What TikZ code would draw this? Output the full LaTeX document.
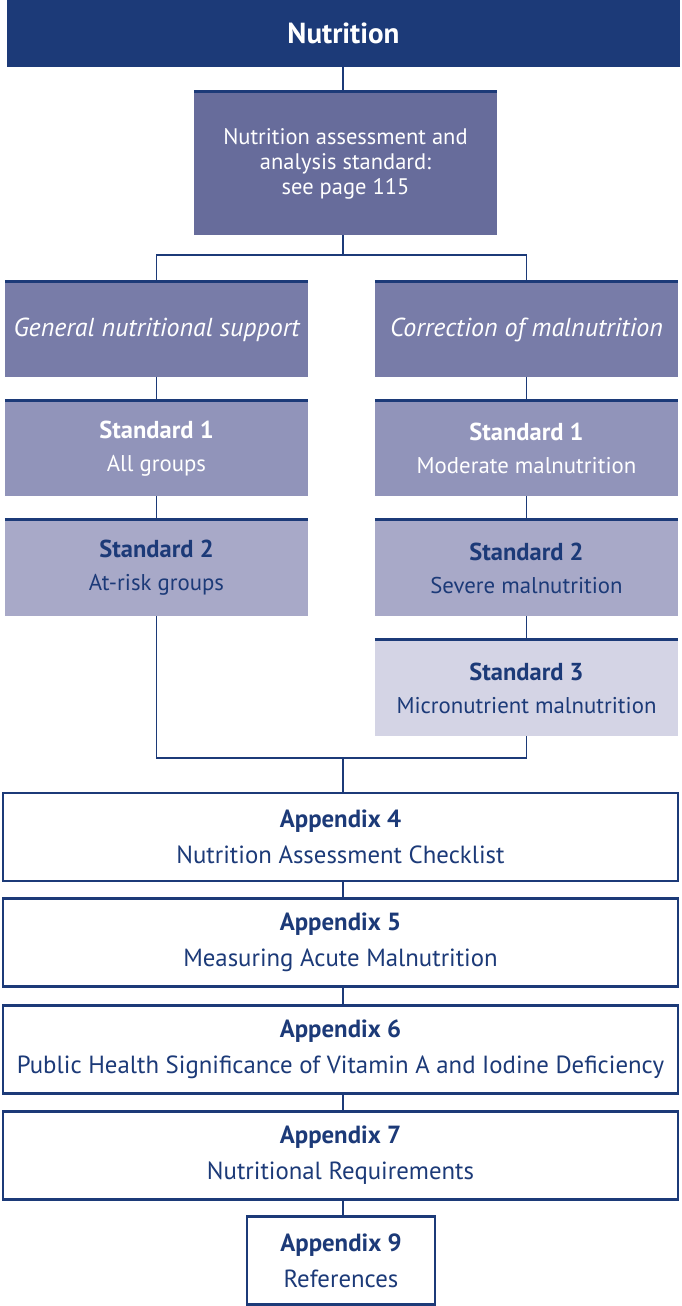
\documentclass[tikz,border=0pt]{standalone}
\usepackage{fontspec}
\setmainfont{PT Sans}
\usepackage{tikz}
\usetikzlibrary{positioning}

\definecolor{navy}{HTML}{1C3A78}
\definecolor{tierA}{HTML}{676C9B}
\definecolor{tierB}{HTML}{787CA8}
\definecolor{tierC}{HTML}{9194BA}
\definecolor{tierD}{HTML}{A8A9C8}
\definecolor{tierE}{HTML}{D4D4E5}

\newcommand{\stdhead}[1]{{\fontsize{24.5}{33}\selectfont\bfseries #1}}

\tikzset{
  box/.style={rectangle, inner sep=0pt, align=center, minimum width=303pt, minimum height=95pt,
    font=\fontsize{22.8}{33}\selectfont},
  std/.style={box, text=white},
  appx/.style={rectangle, draw=navy, line width=2.5pt, fill=white, text=navy, inner sep=0pt,
    align=center, minimum width=675pt, minimum height=88pt, font=\fontsize{24.8}{36}\selectfont},
  topline/.style={navy, line width=3pt},
  link/.style={navy, line width=1.2pt}
}

\begin{document}
\begin{tikzpicture}[x=1pt, y=-1pt]
  \useasboundingbox (0,0) rectangle (681,1306);

  % heading
  \node[rectangle, fill=navy, text=white, minimum width=673pt, minimum height=68pt, inner sep=0pt,
    font=\fontsize{29}{32}\selectfont\bfseries] (nut) at (343.5,33) {Nutrition};

  \node[std, fill=tierA, minimum height=143pt, font=\fontsize{22.5}{25}\selectfont] (assess) at (345.5,163.5)
    {Nutrition assessment and\\analysis standard:\\see page 115};

  % two branches
  \node[std, fill=tierB, font=\fontsize{26}{28}\selectfont\itshape] (gen) at (156.5,329.5) {General nutritional support};
  \node[std, fill=tierB, font=\fontsize{26}{28}\selectfont\itshape] (cor) at (526.5,329.5) {Correction of malnutrition};

  \node[std, fill=tierC] (gstd1) at (156.5,448.5) {\stdhead{Standard 1}\\All groups};
  \node[std, fill=tierD, text=navy, minimum height=96pt] (gstd2) at (156.5,568) {\stdhead{Standard 2}\\At-risk groups};

  \node[std, fill=tierC] (cstd1) at (526.5,448.5) {\stdhead{Standard 1}\\Moderate malnutrition};
  \node[std, fill=tierD, text=navy, minimum height=96pt] (cstd2) at (526.5,568) {\stdhead{Standard 2}\\Severe malnutrition};
  \node[std, fill=tierE, text=navy, minimum height=96pt] (cstd3) at (526.5,688) {\stdhead{Standard 3}\\Micronutrient malnutrition};

  % dark top edges
  \foreach \n in {assess,gen,cor,gstd1,gstd2,cstd1,cstd2,cstd3}
    \draw[topline] (\n.north west) -- (\n.north east);

  % appendices
  \node[appx] (app4) at (340.5,837) {\textbf{Appendix 4}\\Nutrition Assessment Checklist};
  \node[appx] (app5) at (340.5,942.5) {\textbf{Appendix 5}\\Measuring Acute Malnutrition};
  \node[appx] (app6) at (340.5,1049.5) {\textbf{Appendix 6}\\Public Health Significance of Vitamin A and Iodine Deficiency};
  \node[appx] (app7) at (340.5,1155.5) {\textbf{Appendix 7}\\Nutritional Requirements};
  \node[appx, minimum width=188pt] (app9) at (341,1260.5) {\textbf{Appendix 9}\\References};

  \coordinate (split) at (343,255);
  \coordinate (join) at (343,758);

  % connectors
  \draw[link] (nut.south -| split) -- (assess.north -| split);
  \draw[link] (assess.south -| split) -- (split);
  \draw[link] (gen.north) |- (split) -| (cor.north);
  \draw[link] (gen) -- (gstd1);
  \draw[link] (gstd1) -- (gstd2);
  \draw[link] (cor) -- (cstd1);
  \draw[link] (cstd1) -- (cstd2);
  \draw[link] (cstd2) -- (cstd3);
  \draw[link] (gstd2.south) |- (join) -| (cstd3.south);
  \draw[link] (join) -- (app4.north -| join);
  \draw[link] (app4.south -| join) -- (app5.north -| join);
  \draw[link] (app5.south -| join) -- (app6.north -| join);
  \draw[link] (app6.south -| join) -- (app7.north -| join);
  \draw[link] (app7.south -| join) -- (app9.north -| join);
\end{tikzpicture}
\end{document}
